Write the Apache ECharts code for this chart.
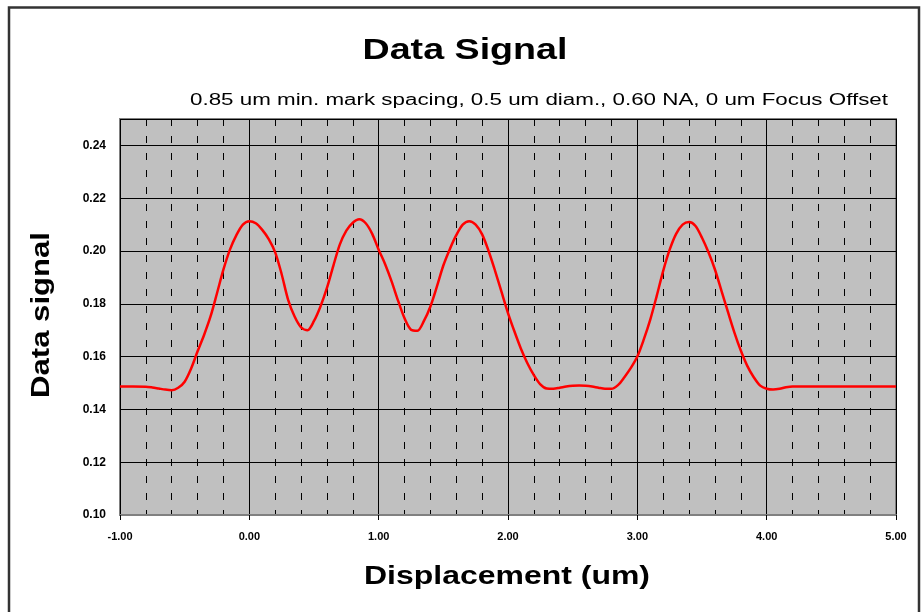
<!DOCTYPE html>
<html>
<head>
<meta charset="utf-8">
<script src="https://cdn.jsdelivr.net/npm/echarts@6/dist/echarts.min.js"></script>
<style>
  html, body { margin: 0; padding: 0; background: #ffffff; }
  #chart { width: 922px; height: 612px; }
</style>
</head>
<body>
<div id="chart"></div>
<script>
// Displacement (um)
const displacement = [-1.0, -0.9, -0.8, -0.75, -0.7, -0.65, -0.6, -0.55, -0.5, -0.45,
  -0.4, -0.35, -0.3, -0.25, -0.2, -0.15, -0.1, -0.05, 0.0, 0.05,
  0.1, 0.15, 0.2, 0.25, 0.3, 0.35, 0.4, 0.45, 0.5, 0.55,
  0.6, 0.65, 0.7, 0.75, 0.8, 0.85, 0.9, 0.95, 1.0, 1.05,
  1.1, 1.15, 1.2, 1.25, 1.3, 1.35, 1.4, 1.45, 1.5, 1.55,
  1.6, 1.65, 1.7, 1.75, 1.8, 1.85, 1.9, 1.95, 2.0, 2.05,
  2.1, 2.15, 2.2, 2.25, 2.3, 2.35, 2.4, 2.45, 2.5, 2.55,
  2.6, 2.65, 2.7, 2.75, 2.8, 2.85, 2.9, 2.95, 3.0, 3.05,
  3.1, 3.15, 3.2, 3.25, 3.3, 3.35, 3.4, 3.45, 3.5, 3.55,
  3.6, 3.65, 3.7, 3.75, 3.8, 3.85, 3.9, 3.95, 4.0, 4.05,
  4.1, 4.15, 4.2, 4.3, 4.4, 4.6, 4.8, 5.0];
// Data signal
const signal = [0.1487, 0.1487, 0.1486, 0.1483, 0.1479, 0.1475, 0.1473, 0.1482, 0.1505, 0.1555,
  0.1620, 0.1682, 0.1752, 0.1840, 0.1930, 0.2005, 0.2060, 0.2100, 0.2113, 0.2105,
  0.2080, 0.2045, 0.1995, 0.1912, 0.1815, 0.1752, 0.1711, 0.1700, 0.1735, 0.1790,
  0.1860, 0.1945, 0.2025, 0.2077, 0.2107, 0.2120, 0.2105, 0.2065, 0.2005, 0.1950,
  0.1885, 0.1812, 0.1745, 0.1702, 0.1698, 0.1735, 0.1790, 0.1865, 0.1945, 0.2007,
  0.2060, 0.2100, 0.2113, 0.2100, 0.2063, 0.2000, 0.1925, 0.1845, 0.1765, 0.1695,
  0.1630, 0.1575, 0.1530, 0.1495, 0.1479, 0.1478, 0.1482, 0.1487, 0.1490, 0.1491,
  0.1490, 0.1487, 0.1482, 0.1478, 0.1478, 0.1492, 0.1522, 0.1557, 0.1600, 0.1665,
  0.1740, 0.1830, 0.1925, 0.2005, 0.2065, 0.2100, 0.2110, 0.2095, 0.2050, 0.1995,
  0.1930, 0.1850, 0.1770, 0.1692, 0.1623, 0.1565, 0.1522, 0.1490, 0.1478, 0.1475,
  0.1478, 0.1484, 0.1487, 0.1487, 0.1487, 0.1487, 0.1487, 0.1487];

const titleText = 'Data Signal';
const subtitleText = '0.85 um min. mark spacing, 0.5 um diam., 0.60 NA, 0 um Focus Offset';
const xName = 'Displacement (um)';
const yName = 'Data signal';

const measureCtx = document.createElement('canvas').getContext('2d');
function fitScale(text, font, targetWidth) {
  measureCtx.font = font;
  const w = measureCtx.measureText(text).width;
  return w > 0 ? targetWidth / w : 1;
}

const titleFont = 'bold 29px "Liberation Sans"';
const subFont = '16px "Liberation Sans"';
const xNameFont = 'bold 26px "Liberation Sans"';
const yNameFont = 'bold 25px "Liberation Sans"';

const chart = echarts.init(document.getElementById('chart'), null, { renderer: 'canvas' });

const pts = displacement.map((x, i) => [x, signal[i]]);

chart.setOption({
  animation: false,
  backgroundColor: '#ffffff',
  grid: {
    left: 120, top: 119, right: 26, bottom: 97,
    show: true,
    backgroundColor: '#c0c0c0',
    borderColor: '#808080',
    borderWidth: 2
  },
  xAxis: {
    type: 'value',
    min: -1, max: 5, interval: 1,
    axisLine: { show: true, lineStyle: { color: '#808080', width: 2 } },
    axisTick: { show: true, length: 5, lineStyle: { color: '#000000', width: 1 } },
    axisLabel: {
      margin: 16,
      fontFamily: 'Liberation Sans', fontWeight: 'bold', fontSize: 11, color: '#000000',
      formatter: v => v.toFixed(2)
    },
    splitLine: { show: true, lineStyle: { color: '#000000', width: 1 } },
    minorTick: { show: false, splitNumber: 5 },
    minorSplitLine: { show: true, lineStyle: { color: '#000000', width: 1, type: [7, 10] } }
  },
  yAxis: {
    type: 'value',
    min: 0.10, max: 0.25, interval: 0.02,
    axisLine: { show: false },
    axisTick: { show: false },
    axisLabel: {
      margin: 14,
      fontFamily: 'Liberation Sans', fontWeight: 'bold', fontSize: 12, color: '#000000',
      showMaxLabel: false,
      formatter: v => (Math.abs(((v - 0.10) / 0.02) - Math.round((v - 0.10) / 0.02)) < 1e-6) ? v.toFixed(2) : ''
    },
    splitLine: { show: true, lineStyle: { color: '#000000', width: 1 } }
  },
  series: [{
    type: 'line',
    data: pts,
    smooth: 0.3,
    showSymbol: false,
    lineStyle: { color: '#ff0000', width: 2.5 },
    z: 5
  }],
  graphic: [
    {
      type: 'rect', silent: true, z: -1,
      shape: { x: 9, y: 7.5, width: 910, height: 620 },
      style: { fill: 'none', stroke: '#333333', lineWidth: 2.5 }
    },
    {
      type: 'text', x: 465, y: 51, scaleX: fitScale(titleText, titleFont, 205),
      style: {
        text: titleText, textAlign: 'center', textVerticalAlign: 'middle',
        font: titleFont, fill: '#000000'
      }
    },
    {
      type: 'text', x: 888, y: 101, scaleX: fitScale(subtitleText, subFont, 698),
      style: {
        text: subtitleText, textAlign: 'right', textVerticalAlign: 'middle',
        font: subFont, fill: '#000000'
      }
    },
    {
      type: 'text', x: 507, y: 577, scaleX: fitScale(xName, xNameFont, 286),
      style: {
        text: xName, textAlign: 'center', textVerticalAlign: 'middle',
        font: xNameFont, fill: '#000000'
      }
    },
    {
      type: 'text', x: 42, y: 315, rotation: Math.PI / 2, scaleX: fitScale(yName, yNameFont, 166),
      style: {
        text: yName, textAlign: 'center', textVerticalAlign: 'middle',
        font: yNameFont, fill: '#000000'
      }
    }
  ]
});
</script>
</body>
</html>
